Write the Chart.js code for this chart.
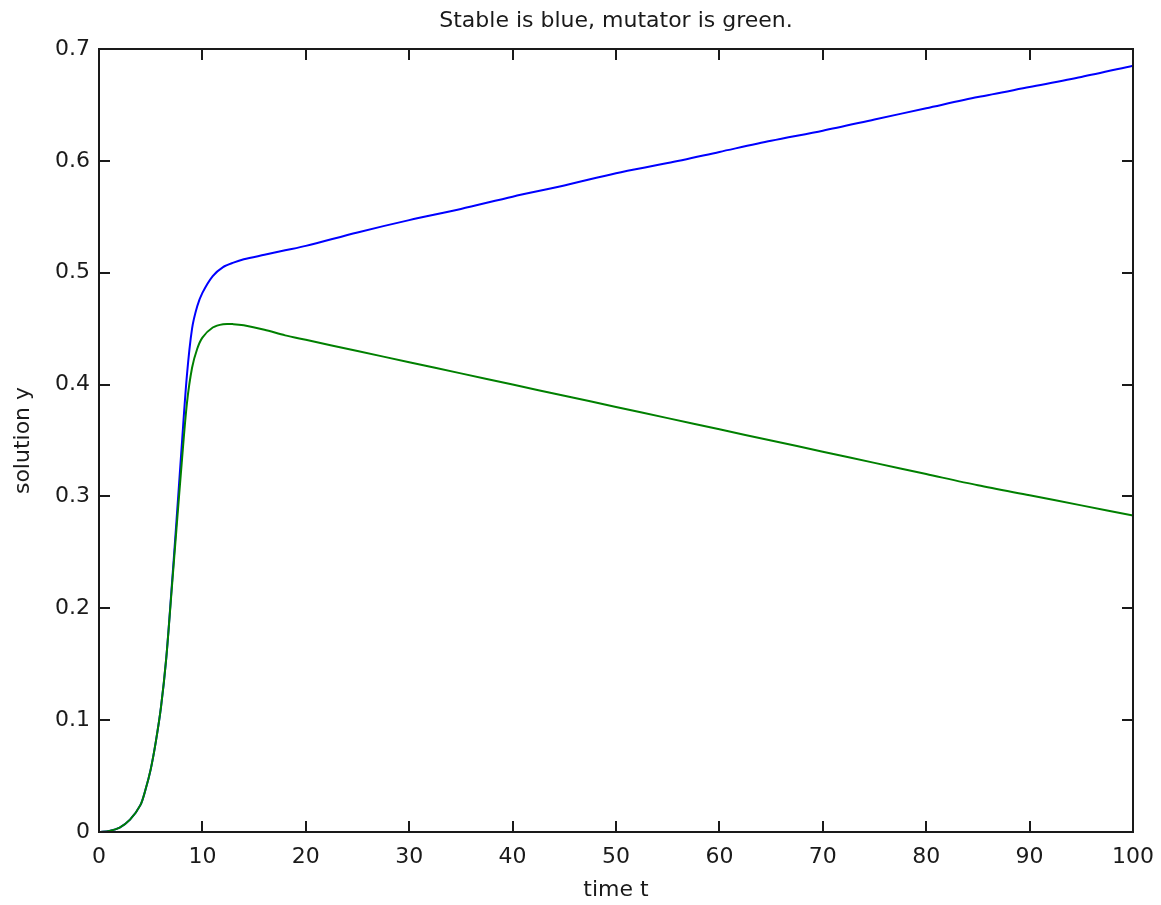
<!DOCTYPE html>
<html>
<head>
<meta charset="utf-8">
<script src="https://cdn.jsdelivr.net/npm/chart.js@4/dist/chart.umd.min.js"></script>
<style>
  body { margin: 0; background: #fff; }
  #wrap { width: 1161px; height: 905px; }
</style>
</head>
<body>
<div id="wrap"><canvas id="plot" width="1161" height="905"></canvas></div>
<script>
// time points (t) and solution values
const time = [0, 1, 2, 3, 4, 4.5, 5, 5.5, 6, 6.5, 7, 7.5, 8, 8.5, 9, 9.5, 10, 11, 12, 13, 14, 16, 18, 20,
  25, 30, 35, 40, 45, 50, 55, 60, 65, 70, 75, 80, 85, 90, 95, 100];
const stable = [0, 0.001, 0.004, 0.011, 0.024, 0.038, 0.056, 0.081, 0.112, 0.155, 0.215, 0.279, 0.345, 0.408,
  0.450, 0.470, 0.482, 0.497, 0.505, 0.509, 0.512, 0.516, 0.520, 0.524,
  0.536, 0.547, 0.557, 0.568, 0.578, 0.589, 0.598, 0.608, 0.618, 0.627, 0.637, 0.647, 0.657, 0.666, 0.675, 0.685];
const mutator = [0, 0.001, 0.004, 0.011, 0.024, 0.038, 0.056, 0.081, 0.112, 0.155, 0.213, 0.272, 0.330, 0.383,
  0.415, 0.432, 0.442, 0.451, 0.454, 0.454, 0.453, 0.449, 0.444, 0.440,
  0.430, 0.420, 0.410, 0.400, 0.390, 0.380, 0.370, 0.360, 0.350, 0.340, 0.330, 0.320, 0.310, 0.301, 0.292, 0.283];

const xTicks = [0, 10, 20, 30, 40, 50, 60, 70, 80, 90, 100];
const yTicks = [0, 0.1, 0.2, 0.3, 0.4, 0.5, 0.6, 0.7];
const titleText = 'Stable is blue, mutator is green.';

function pts(ys) {
  return time.map((t, i) => ({ x: t, y: ys[i] }));
}

const font = { family: '"DejaVu Sans", sans-serif', size: 22 };
const ink = '#1a1a1a';

// matlab style box with inward ticks on every side, title centred over the axes
const boxTicks = {
  id: 'boxTicks',
  afterDraw(chart) {
    const c = chart.ctx;
    const a = chart.chartArea;
    const sx = chart.scales.x, sy = chart.scales.y;
    const len = 11;
    c.save();
    c.strokeStyle = ink;
    c.lineWidth = 2;
    c.beginPath();
    xTicks.forEach(v => {
      const px = Math.round(sx.getPixelForValue(v));
      c.moveTo(px, a.bottom); c.lineTo(px, a.bottom - len);
      c.moveTo(px, a.top); c.lineTo(px, a.top + len);
    });
    yTicks.forEach(v => {
      const py = Math.round(sy.getPixelForValue(v));
      c.moveTo(a.left, py); c.lineTo(a.left + len, py);
      c.moveTo(a.right, py); c.lineTo(a.right - len, py);
    });
    c.stroke();
    c.strokeRect(a.left, a.top, a.right - a.left, a.bottom - a.top);

    c.fillStyle = ink;
    c.font = font.size + 'px ' + font.family;
    c.textAlign = 'center';
    c.textBaseline = 'middle';
    c.fillText(titleText, (a.left + a.right) / 2, 21);
    c.restore();
  }
};

new Chart(document.getElementById('plot'), {
  type: 'line',
  data: {
    datasets: [
      { label: 'stable', data: pts(stable), borderColor: '#0000ff', borderWidth: 2, pointRadius: 0, tension: 0.3, order: 1 },
      { label: 'mutator', data: pts(mutator), borderColor: '#008000', borderWidth: 2, pointRadius: 0, tension: 0.3, order: 0 }
    ]
  },
  options: {
    responsive: false,
    animation: false,
    layout: { padding: { left: 0, right: 28, top: 49, bottom: 0 } },
    plugins: {
      legend: { display: false },
      tooltip: { enabled: false },
      title: { display: false }
    },
    scales: {
      x: {
        type: 'linear',
        min: 0, max: 100,
        afterFit: s => { s.height = 73; s.paddingLeft = 0; s.paddingRight = 0; },
        afterBuildTicks: s => { s.ticks = xTicks.map(v => ({ value: v })); },
        grid: { display: false, drawTicks: false },
        border: { display: false },
        ticks: { color: ink, font: font, padding: 12, maxRotation: 0 },
        title: { display: true, text: 'time t', color: ink, font: font, padding: { top: 0, bottom: 2 } }
      },
      y: {
        min: 0, max: 0.7,
        afterFit: s => { s.width = 99; s.paddingTop = 0; s.paddingBottom = 0; },
        afterBuildTicks: s => { s.ticks = yTicks.map(v => ({ value: v })); },
        grid: { display: false, drawTicks: false },
        border: { display: false },
        ticks: { color: ink, font: font, padding: 9 },
        title: { display: true, text: 'solution y', color: ink, font: font, padding: { top: 10, bottom: 0 } }
      }
    }
  },
  plugins: [boxTicks]
});
</script>
</body>
</html>
